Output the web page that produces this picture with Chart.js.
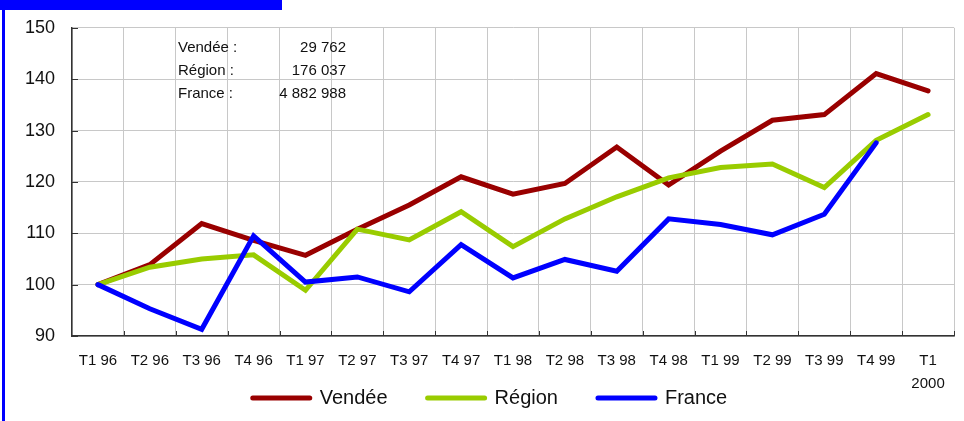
<!DOCTYPE html>
<html>
<head>
<meta charset="utf-8">
<script src="https://cdn.jsdelivr.net/npm/chart.js@4"></script>
<style>
  html, body { margin: 0; padding: 0; background: #fff; }
  #box { width: 964px; height: 421px; }
</style>
</head>
<body>
<div id="box"><canvas id="grafico"></canvas></div>
<script>
const trimestres = ['T1 96', 'T2 96', 'T3 96', 'T4 96', 'T1 97', 'T2 97', 'T3 97', 'T4 97', 'T1 98',
    'T2 98', 'T3 98', 'T4 98', 'T1 99', 'T2 99', 'T3 99', 'T4 99', ['T1', '2000']];
const vendee = [100, 103.9, 111.9, 108.6, 105.7, 110.8, 115.5, 121.0, 117.6, 119.7, 126.8, 119.4, 126.0, 132.0, 133.1, 141.1, 137.7];
const region = [100, 103.4, 105.0, 105.8, 98.9, 110.8, 108.7, 114.2, 107.4, 112.8, 117.1, 120.8, 122.8, 123.5, 118.9, 128.1, 133.1];
const france = [100, 95.3, 91.3, 109.5, 100.5, 101.5, 98.6, 107.8, 101.3, 104.9, 102.6, 112.8, 111.7, 109.7, 113.7, 127.6, null];
const yTicks = [90, 100, 110, 120, 130, 140, 150];
const effectifs = [['Vendée :', '29 762'], ['Région :', '176 037'], ['France :', '4 882 988']];

const fonte = '"Liberation Sans", Arial, sans-serif';

// cadre bleu + petites graduations vers l'intérieur + encadré des effectifs
const decor = {
    id: 'decor',
    afterInit(chart) {
        // légende : gros écart horizontal mais hauteur réduite
        const fit = chart.legend.fit;
        chart.legend.fit = function () {
            fit.call(chart.legend);
            this.height = 73;
        };
    },
    beforeDraw(chart) {
        const ctx = chart.ctx;
        ctx.save();
        ctx.fillStyle = '#0000ff';
        ctx.fillRect(0, 0, 282, 10);
        ctx.fillRect(2, 0, 3, 421);
        ctx.restore();
    },
    afterDatasetsDraw(chart) {
        const ctx = chart.ctx;
        const x = chart.scales.x, y = chart.scales.y;
        ctx.save();
        ctx.strokeStyle = '#333';
        ctx.lineWidth = 1;
        ctx.beginPath();
        yTicks.forEach(v => {
            const py = Math.round(y.getPixelForValue(v)) + 0.5;
            ctx.moveTo(x.left, py);
            ctx.lineTo(x.left + 6, py);
        });
        for (let i = 1; i <= trimestres.length; i++) {
            const px = Math.round(x.getPixelForValue(i - 0.5)) + 0.5;
            ctx.moveTo(px, y.bottom);
            ctx.lineTo(px, y.bottom - 5);
        }
        ctx.stroke();

        ctx.fillStyle = '#111';
        ctx.font = '15px ' + fonte;
        ctx.textBaseline = 'alphabetic';
        effectifs.forEach((l, i) => {
            const by = 52 + i * 23;
            ctx.textAlign = 'left';
            ctx.fillText(l[0], 178, by);
            ctx.textAlign = 'right';
            ctx.fillText(l[1], 346, by);
        });
        ctx.restore();
    }
};

const ctx = document.getElementById('grafico').getContext('2d');
new Chart(ctx, {
    type: 'line',
    data: {
        labels: trimestres,
        datasets: [
            { label: 'Vendée', data: vendee, borderColor: '#990000', backgroundColor: '#990000', order: 3 },
            { label: 'Région', data: region, borderColor: '#99cc00', backgroundColor: '#99cc00', order: 2 },
            { label: 'France', data: france, borderColor: '#0000ff', backgroundColor: '#0000ff', order: 1 }
        ]
    },
    options: {
        responsive: true,
        maintainAspectRatio: false,
        animation: false,
        elements: {
            line: { borderWidth: 5, tension: 0, borderCapStyle: 'round', borderJoinStyle: 'miter' },
            point: { radius: 0, hoverRadius: 0, borderWidth: 5 }
        },
        layout: { padding: { left: 26, right: 10, top: 26, bottom: 0 } },
        scales: {
            x: {
                offset: true,
                grid: { offset: true, color: '#c8c8c8', drawTicks: false },
                border: { color: '#333', width: 1.5 },
                ticks: {
                    color: '#111', padding: 14, maxRotation: 0, autoSkip: false,
                    font: { family: fonte, size: 15, lineHeight: 1.5 }
                },
                afterFit(scale) {
                    scale.height = 12;
                    // les étiquettes débordent sur la zone de la légende
                    scale._computeLabelArea = () => undefined;
                }
            },
            y: {
                min: 90, max: 150,
                afterBuildTicks(scale) { scale.ticks = yTicks.map(v => ({ value: v })); },
                grid: { color: '#c8c8c8', drawTicks: false },
                border: { color: '#333', width: 1.5 },
                ticks: { color: '#111', padding: 17, font: { family: fonte, size: 18 } },
                afterFit(scale) { scale.width = 46; }
            }
        },
        plugins: {
            legend: {
                position: 'bottom',
                labels: {
                    usePointStyle: true,
                    pointStyle: 'line',
                    pointStyleWidth: 57,
                    padding: 40,
                    color: '#111',
                    font: { family: fonte, size: 20 },
                    sort: (a, b) => a.datasetIndex - b.datasetIndex,
                    generateLabels: chart => Chart.defaults.plugins.legend.labels.generateLabels(chart)
                        .map(item => Object.assign(item, { lineCap: 'round', lineWidth: 5 }))
                }
            },
            tooltip: { enabled: false }
        }
    },
    plugins: [decor]
});
</script>
</body>
</html>
